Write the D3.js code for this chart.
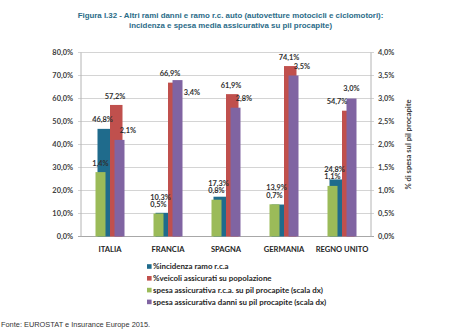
<!DOCTYPE html>
<html>
<head>
<meta charset="utf-8">
<script src="https://cdn.jsdelivr.net/npm/d3@7"></script>
<style>
  html, body { margin: 0; padding: 0; background: #ffffff; }
  svg { display: block; }
  text { font-family: Lato, "Open Sans", sans-serif; }
</style>
</head>
<body>
<svg id="chart" width="450" height="334"></svg>
<script>
// Countries and series
const categories = ["ITALIA", "FRANCIA", "SPAGNA", "GERMANIA", "REGNO UNITO"];
const incidenzaRca = [46.8, 10.3, 17.3, 13.9, 24.8];        // % (left scale)
const veicoliAssicurati = [57.2, 66.9, 61.9, 74.1, 54.7];   // % (left scale)
const spesaRcaPil = [1.4, 0.5, 0.8, 0.7, 1.1];              // % (right scale)
const spesaDanniPil = [2.1, 3.4, 2.8, 3.5, 3.0];            // % (right scale)
const leftTicks = [0, 10, 20, 30, 40, 50, 60, 70, 80];
const rightTicks = [0, 0.5, 1.0, 1.5, 2.0, 2.5, 3.0, 3.5, 4.0];
const legendLabels = [
  "%incidenza ramo r.c.a",
  "%veicoli assicurati su popolazione",
  "spesa assicurativa r.c.a. su pil procapite (scala dx)",
  "spesa assicurativa danni su pil procapite (scala dx)"
];
const titleLines = [
  "Figura I.32 - Altri rami danni e ramo r.c. auto (autovetture motocicli e ciclomotori):",
  "incidenza e spesa media assicurativa su pil procapite)"
];
const sourceNote = "Fonte: EUROSTAT e Insurance Europe 2015.";
const rightAxisTitle = "% di spesa sul pil procapite";

const COLORS = {
  blue: "#1f6b8c",
  red: "#c0504d",
  green: "#9bbb59",
  purple: "#8064a2"
};

const it = d3.formatLocale({ decimal: ",", thousands: ".", grouping: [3], currency: ["€", ""] });
const f1 = it.format(".1f");
const pct = v => f1(v) + "%";

const svg = d3.select("#chart");
const plot = { left: 81, right: 371, top: 52.5, bottom: 236.5 };

const x = d3.scaleBand().domain(categories).range([plot.left, plot.right]).padding(0);
const yL = d3.scaleLinear().domain([0, 80]).range([plot.bottom, plot.top]);
const yR = d3.scaleLinear().domain([0, 4]).range([plot.bottom, plot.top]);
const cx = c => x(c) + x.bandwidth() / 2;

// Title
svg.append("g").selectAll("text").data(titleLines).join("text")
  .attr("x", 230.5).attr("y", (d, i) => 17.5 + i * 10)
  .attr("text-anchor", "middle")
  .style("font-family", "'Liberation Sans', Arial, sans-serif")
  .style("font-weight", "bold").style("font-size", "7.9px")
  .attr("fill", "#2b6c88")
  .text(d => d);

// Gridlines
svg.append("g").selectAll("line").data(leftTicks).join("line")
  .attr("x1", plot.left - 3).attr("x2", plot.right + 3)
  .attr("y1", d => yL(d)).attr("y2", d => yL(d))
  .attr("stroke", d => d === 0 ? "#a8a8a8" : "#d4d4d4").attr("stroke-width", 1);

// Axis lines
svg.append("line").attr("x1", plot.left).attr("x2", plot.left)
  .attr("y1", plot.top).attr("y2", plot.bottom).attr("stroke", "#b4b4b4");
svg.append("line").attr("x1", plot.right).attr("x2", plot.right)
  .attr("y1", plot.top).attr("y2", plot.bottom).attr("stroke", "#b4b4b4");

const tickFont = g => g.style("font-weight", "bold").style("font-size", "7.4px").attr("fill", "#404040");

// Left axis labels
svg.append("g").selectAll("text").data(leftTicks).join("text")
  .attr("x", 73).attr("y", d => yL(d)).attr("dy", "0.35em")
  .attr("text-anchor", "end").call(tickFont)
  .text(d => pct(d));

// Right axis labels
svg.append("g").selectAll("text").data(rightTicks).join("text")
  .attr("x", 378).attr("y", d => yR(d)).attr("dy", "0.35em")
  .attr("text-anchor", "start").call(tickFont)
  .text(d => pct(d));

// Right axis title
svg.append("text")
  .attr("transform", `translate(408,${(plot.top + plot.bottom) / 2}) rotate(-90)`)
  .attr("text-anchor", "middle").attr("dy", "0.35em")
  .style("font-weight", "bold").style("font-size", "7.6px").attr("fill", "#404040")
  .text(rightAxisTitle);

// Category labels
svg.append("g").selectAll("text").data(categories).join("text")
  .attr("x", d => cx(d)).attr("y", 249).attr("dy", "0.35em")
  .attr("text-anchor", "middle")
  .style("font-weight", "bold").style("font-size", "7.6px").attr("fill", "#262626")
  .text(d => d);

// Bar layout: primary-axis pair side by side, secondary-axis pair overlaid in front
const W1 = 12.5, W2 = 10;
const seriesDefs = [
  { values: incidenzaRca, scale: yL, color: COLORS.blue, off: -W1, w: W1 },
  { values: veicoliAssicurati, scale: yL, color: COLORS.red, off: 0, w: W1 },
  { values: spesaRcaPil, scale: yR, color: COLORS.green, off: -14.5, w: W2 },
  { values: spesaDanniPil, scale: yR, color: COLORS.purple, off: 4.5, w: W2 }
];

seriesDefs.forEach(s => {
  svg.append("g").selectAll("rect").data(categories).join("rect")
    .attr("x", (c) => cx(c) + s.off)
    .attr("width", s.w)
    .attr("y", (c, i) => s.scale(s.values[i]))
    .attr("height", (c, i) => plot.bottom - s.scale(s.values[i]))
    .attr("fill", s.color);
});

// Data labels, nudged apart where neighbouring labels would collide
const labelG = svg.append("g")
  .style("font-weight", "bold").style("font-size", "7.4px").attr("fill", "#303030");

categories.forEach((c, i) => {
  const c0 = cx(c);
  const greenTop = yR(spesaRcaPil[i]);
  const blueTop = yL(incidenzaRca[i]);
  const redTop = yL(veicoliAssicurati[i]);
  const purpleTop = yR(spesaDanniPil[i]);

  const greenY = greenTop - 9;
  const blueY = Math.min(blueTop - 9, greenY - 7.5);
  let redX = c0 + 5, redY = redTop - 9;
  let purpleX = c0 + 18, purpleY = purpleTop - 9;
  if (purpleTop < redTop) {
    if (redTop - purpleTop < 6) {
      // purple bar just above red: red label on top, purple label beside below
      redX = c0 + 2;
      purpleX = c0 + 24; purpleY = purpleTop + 12;
    } else {
      // purple bar clearly taller: labels side by side
      redX = c0 - 5;
      purpleX = c0 + 9.5; purpleY = purpleTop - 10.5;
    }
  }

  const labels = [
    { x: c0 - 9.5, y: greenY, t: pct(spesaRcaPil[i]) },
    { x: c0 - 7.5, y: blueY, t: pct(incidenzaRca[i]) },
    { x: redX, y: redY, t: pct(veicoliAssicurati[i]) },
    { x: purpleX, y: purpleY, t: pct(spesaDanniPil[i]) }
  ];
  labels.forEach(l => {
    labelG.append("text").attr("x", l.x).attr("y", l.y).attr("dy", "0.35em")
      .attr("text-anchor", "middle").text(l.t);
  });
});

// Legend
const colorList = [COLORS.blue, COLORS.red, COLORS.green, COLORS.purple];
const legend = svg.append("g").attr("transform", "translate(147,266.5)");
const rows = legend.selectAll("g").data(legendLabels).join("g")
  .attr("transform", (d, i) => `translate(0,${i * 11.8})`);
rows.append("rect").attr("x", 0).attr("y", -2.3).attr("width", 4.6).attr("height", 4.6)
  .attr("fill", (d, i) => colorList[i]);
rows.append("text").attr("x", 6).attr("y", 0).attr("dy", "0.35em")
  .style("font-weight", "bold").style("font-size", "7.9px").attr("fill", "#262626")
  .text(d => d);

// Source note
svg.append("text").attr("x", 1).attr("y", 324).attr("dy", "0.35em")
  .style("font-family", "'Liberation Sans', Arial, sans-serif")
  .style("font-size", "7.4px").attr("fill", "#333333")
  .text(sourceNote);
</script>
</body>
</html>
